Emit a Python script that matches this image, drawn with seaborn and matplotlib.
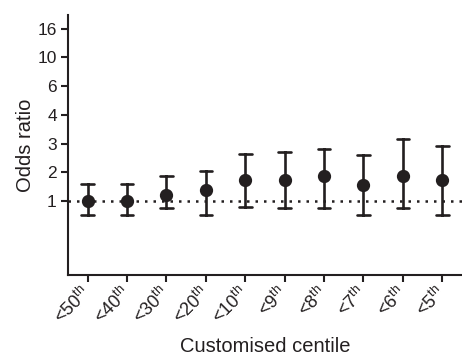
import numpy as np
import pandas as pd
import matplotlib
matplotlib.use("Agg")
import matplotlib.pyplot as plt
import seaborn as sns

# odds ratios with 95% CI
centiles = ["50", "40", "30", "20", "10", "9", "8", "7", "6", "5"]
odds = [1.00, 1.00, 1.20, 1.39, 1.73, 1.73, 1.87, 1.56, 1.87, 1.73]
ci_low = [0.51, 0.51, 0.76, 0.51, 0.78, 0.77, 0.77, 0.51, 0.77, 0.51]
ci_high = [1.58, 1.58, 1.88, 2.03, 2.64, 2.71, 2.80, 2.61, 3.15, 2.91]

ytick_vals = [1, 2, 3, 4, 6, 10, 16]

# y axis has its tick labels evenly spaced, so build a piecewise scale
tick_pos = np.arange(len(ytick_vals), dtype=float)


def fwd(v):
    v = np.asarray(v, dtype=float)
    mid = np.interp(v, ytick_vals, tick_pos)
    return np.where(v < 1, v - 1, np.where(v > 16, 6 + (v - 16) / 6, mid))


def inv(p):
    p = np.asarray(p, dtype=float)
    mid = np.interp(p, tick_pos, ytick_vals)
    return np.where(p < 0, p + 1, np.where(p > 6, 16 + (p - 6) * 6, mid))


# long table: low / estimate / high per group -> median with full range
rows = []
for c, lo, o, hi in zip(centiles, ci_low, odds, ci_high):
    for v in (lo, o, hi):
        rows.append({"centile": c, "odds": v})
df = pd.DataFrame(rows)

sns.set_style("ticks")
plt.rcParams["font.family"] = ["Liberation Sans", "DejaVu Sans"]
plt.rcParams["mathtext.fontset"] = "custom"
plt.rcParams["mathtext.rm"] = "Liberation Sans"

ink = "#231f20"

fig = plt.figure(figsize=(4.62, 3.56), dpi=100)
ax = fig.add_axes([0.147, 0.2275, 0.853, 0.7305])
ax.set_yscale("function", functions=(fwd, inv))

ax.axhline(1, color=ink, lw=1.8, ls=(0, (1, 2.4)), zorder=1)

sns.pointplot(data=df, x="centile", y="odds", order=centiles,
              estimator="median", errorbar=("pi", 100),
              linestyle="none", marker="o", markersize=7.5,
              color=ink, capsize=0.32, err_kws={"linewidth": 1.9},
              ax=ax, zorder=3)

ax.set_xlim(-0.5, 9.5)
ax.set_ylim(inv(-2.58), inv(6.48))
ax.set_yticks(ytick_vals)
ax.set_yticklabels([str(v) for v in ytick_vals])
ax.yaxis.set_minor_locator(matplotlib.ticker.NullLocator())

ax.set_xticks(range(len(centiles)))
ax.set_xticklabels([r"<" + c + r"$^{\mathrm{th}}$" for c in centiles],
                   rotation=45, ha="right", va="center",
                   rotation_mode="anchor")

for s in ["top", "right"]:
    ax.spines[s].set_visible(False)
for s in ["left", "bottom"]:
    ax.spines[s].set_linewidth(1.5)
    ax.spines[s].set_color(ink)

ax.tick_params(axis="both", length=5, width=1.5, color=ink,
               labelcolor=ink, pad=3)
ax.tick_params(axis="y", labelsize=12.5)
ax.tick_params(axis="x", labelsize=13, pad=6)

ax.set_xlabel("Customised centile", fontsize=14.5, color=ink, labelpad=7)
ax.set_ylabel("Odds ratio", fontsize=14.5, color=ink, labelpad=2)

fig.savefig("out.png", dpi=100)
